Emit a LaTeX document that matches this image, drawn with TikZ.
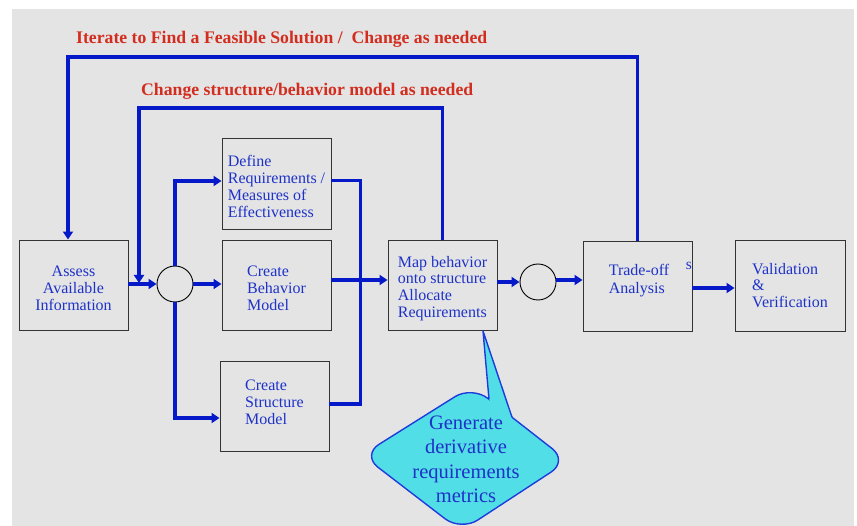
\documentclass[tikz,border=0pt]{standalone}
\usepackage{fontspec}
\setmainfont{Liberation Serif}
\usetikzlibrary{arrows.meta,calc}
\definecolor{bgc}{RGB}{228,228,228}
\definecolor{lineblue}{RGB}{5,25,200}
\definecolor{txtblue}{RGB}{30,50,200}
\definecolor{titlered}{RGB}{210,45,30}
\definecolor{callfill}{RGB}{82,222,230}
\definecolor{callline}{RGB}{30,60,220}
\newcommand\mypush[1]{\rule{0pt}{#1pt}}
\newcommand\mylift[1]{\rule[-#1pt]{0pt}{0pt}}
\tikzset{
  box/.style={draw=black!80, line width=0.9, fill=bgc, minimum width=109, minimum height=90,
    inner sep=0, text=txtblue, font=\fontsize{16}{16.8}\selectfont, align=left},
  junction/.style={circle, draw=black, line width=0.9, fill=bgc, minimum size=36, inner sep=0},
  flow/.style={draw=lineblue, line width=3.6, -{Triangle[length=8,width=10]}},
  plain/.style={draw=lineblue, line width=3.6},
  title/.style={text=titlered, font=\bfseries\fontsize{17.7}{20}\selectfont, anchor=west, inner sep=0}
}
\begin{document}
\begin{tikzpicture}[x=1pt,y=-1pt]
\useasboundingbox (0,0) rectangle (857,526);
\fill[white] (0,0) rectangle (857,526);
\fill[bgc] (12,9) rectangle (854,526);

% titles
\node[title] (t1) at (76,39.5) {Iterate to Find a Feasible Solution /\ \ Change as needed};
\node[title] (t2) at (141,91.5) {Change structure/behavior model as needed};

% boxes
\node[box, align=center] (assess) at (73.5,285) {\mypush{17}Assess\\Available\\Information};
\node[box, minimum height=91] (define) at (276.5,183.5) {\mypush{17}Define\\Requirements /\\Measures of\\Effectiveness};
\node[box] (behav) at (276.5,285) {\mypush{17}Create\\Behavior\\Model};
\node[box] (struct) at (274.5,406) {Create\\Structure\\Model\mylift{8}};
\node[box] (map) at (442.5,285) {\mypush{18}Map behavior\\onto structure\\Allocate\\Requirements};
\node[box] (trade) at (637.5,286) {};
\node[text=txtblue, font=\fontsize{16}{17.5}\selectfont, align=left, inner sep=0] (tradetxt) at (639,280.5) {Trade-off\\Analysis};
\node[text=txtblue, font=\fontsize{15.5}{17}\selectfont, inner sep=0] (s) at (689,266) {s};
\node[box, minimum width=110, minimum height=91] (vv) at (790,285.5) {Validation\\\&\\Verification};

\node[junction] (c1) at (175,284) {};
\node[junction] (c2) at (538,282) {};

% connectors
\draw[flow] (assess.east |- c1) -- (c1.west);
\draw[flow] (c1.east) -- (c1.east -| behav.west);
\draw[flow] (c1.north) |- ($(define.west)+(0,-2.5)$);
\draw[flow] (c1.south) |- ($(struct.west)+(0,12)$);
\draw[plain] ($(define.east)+(0,-3)$) -- ++(29,0) |- ($(struct.east)+(0,-2)$);
\draw[flow] ($(behav.east)+(0,-5)$) -- ($(map.west)+(0,-5)$);
\draw[flow] (map.east |- c2) -- (c2.west);
\draw[flow] ($(c2.east)+(0,-2)$) -- ($(c2.east -| trade.west)+(0,-2)$);
\draw[flow] ($(trade.east)+(0,2)$) -- ($(vv.west)+(0,2.5)$);

% outer loop
\coordinate (o1) at (638,57);
\coordinate (o2) at (68,57);
\draw[flow] (trade.north) -- (trade.north |- o1) -- (o2) -- (o2 |- assess.north);

% inner loop
\coordinate (i1) at (139,108);
\coordinate (ij) at (139,283);
\draw[flow] (map.north) -- (map.north |- i1) -- (i1) -- (ij);

% callout
\draw[callline, line width=1.4, fill=callfill, rounded corners=20]
  (362,455) -- (472,386) -- (568,461) -- (461,531) -- cycle;
\fill[callfill] (483,331) -- (489,399.3) -- (491,404) -- (510,419) -- (512,417.2) -- cycle;
\draw[callline, line width=1.4, line join=round] (489,399.3) -- (483,331) -- (512,417.2);
\node[text=txtblue, font=\fontsize{20.5}{24.5}\selectfont, align=center, inner sep=0] (gen) at (466,459.5)
  {Generate\\derivative\\requirements\\metrics};
\end{tikzpicture}
\end{document}
